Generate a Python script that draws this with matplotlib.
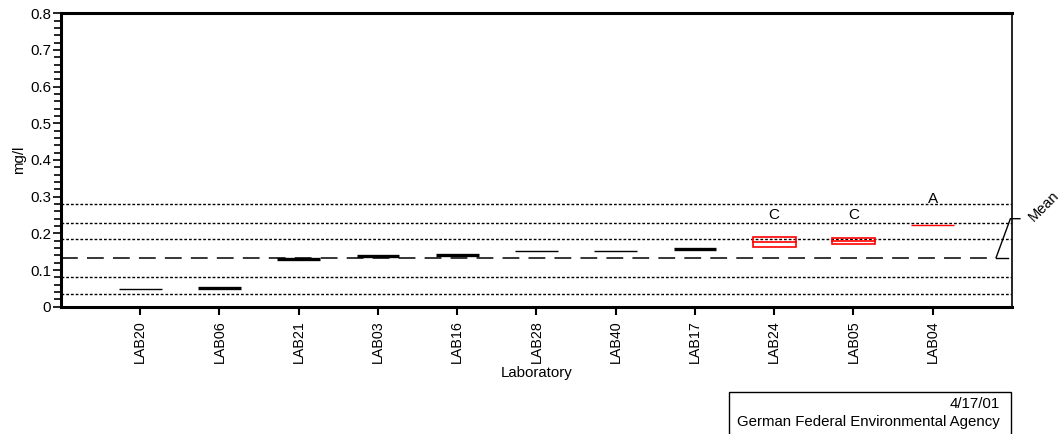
import matplotlib
matplotlib.use("Agg")
import matplotlib.pyplot as plt
from matplotlib.patches import Rectangle
from matplotlib.ticker import MultipleLocator

plt.rcParams["font.family"] = ["Liberation Sans", "DejaVu Sans"]

# per-lab results (min, mean, max) in mg/l
labs = ["LAB20", "LAB06", "LAB21", "LAB03", "LAB16", "LAB28", "LAB40", "LAB17", "LAB24", "LAB05", "LAB04"]
lab_min = [0.047, 0.048, 0.128, 0.135, 0.139, 0.151, 0.151, 0.155, 0.164, 0.171, 0.222]
lab_mean = [0.047, 0.050, 0.129, 0.137, 0.140, 0.151, 0.151, 0.157, 0.176, 0.180, 0.222]
lab_max = [0.047, 0.052, 0.131, 0.139, 0.141, 0.151, 0.151, 0.158, 0.191, 0.187, 0.222]
flags = ["", "", "", "", "", "", "", "", "C", "C", "A"]
flag_y = [0, 0, 0, 0, 0, 0, 0, 0, 0.25, 0.25, 0.294]

mean_value = 0.134
limit_lines = [0.281, 0.229, 0.184, 0.082, 0.035]

fig = plt.figure(figsize=(10.62, 4.34), dpi=100)
ax = fig.add_axes([0.0574, 0.2933, 0.8955, 0.6761])

ax.set_xlim(0, 12)
ax.set_ylim(0, 0.8)

for y in limit_lines:
    ax.axhline(y, color="black", lw=1, dashes=(2, 1.4), zorder=1)
ax.plot([0, 11.75], [mean_value, mean_value], color="black", lw=1.1, dashes=(11, 6), zorder=1)

half = 0.27
for i, lab in enumerate(labs):
    x = i + 1
    color = "red" if flags[i] else "black"
    lo, mid, hi = lab_min[i], lab_mean[i], lab_max[i]
    if hi - lo > 0.006:
        ax.add_patch(Rectangle((x - half, lo), 2 * half, hi - lo, fill=False,
                               edgecolor=color, lw=1.2, zorder=3))
        ax.plot([x - half, x + half], [mid, mid], color=color, lw=1.2, zorder=3)
    elif hi - lo > 0:
        ax.plot([x - half, x + half], [mid, mid], color=color, lw=2.4, zorder=3,
                solid_capstyle="butt")
    else:
        ax.plot([x - half, x + half], [mid, mid], color=color, lw=1.0, zorder=3,
                solid_capstyle="butt")
    if flags[i]:
        ax.text(x, flag_y[i], flags[i], ha="center", va="center", fontsize=11)

# mean marker outside the plot area
ax.plot([11.8, 11.95], [mean_value, mean_value], color="black", lw=1, clip_on=False)
ax.plot([11.8, 11.98, 12.1], [mean_value, 0.24, 0.24], color="black", lw=1, clip_on=False)
ax.text(12.3, 0.226, "Mean", rotation=45, ha="left", va="bottom", fontsize=10.5,
        rotation_mode="anchor")

ax.set_xticks(range(1, len(labs) + 1))
ax.set_xticklabels(labs, rotation=90, fontsize=10.3)
ax.yaxis.set_major_locator(MultipleLocator(0.1))
ax.yaxis.set_minor_locator(MultipleLocator(0.02))
ax.set_yticks([0, 0.1, 0.2, 0.3, 0.4, 0.5, 0.6, 0.7, 0.8])
ax.set_yticklabels(["0", "0.1", "0.2", "0.3", "0.4", "0.5", "0.6", "0.7", "0.8"], fontsize=10.8)
ax.tick_params(axis="y", which="major", length=6, width=1.2, pad=1)
ax.tick_params(axis="y", which="minor", length=5, width=1.2)
ax.tick_params(axis="x", which="major", length=5.5, width=1.5, pad=4)

ax.set_xlabel("Laboratory", fontsize=10.8, labelpad=2)
ax.set_ylabel("mg/l", fontsize=10.8, labelpad=3)

for side in ["left", "bottom", "top"]:
    ax.spines[side].set_linewidth(2.2)
ax.spines["right"].set_linewidth(1.2)

# footer box
fig.patches.append(Rectangle((729 / 1062, -0.05), 282 / 1062, 1 - 392 / 434 + 0.05,
                             transform=fig.transFigure, fill=False, edgecolor="black", lw=1))
fig.text(1000 / 1062, 1 - 404 / 434, "4/17/01", ha="right", va="center", fontsize=10.8)
fig.text(1000 / 1062, 1 - 422 / 434, "German Federal Environmental Agency", ha="right",
         va="center", fontsize=10.8)

fig.savefig("out.png", dpi=100)
